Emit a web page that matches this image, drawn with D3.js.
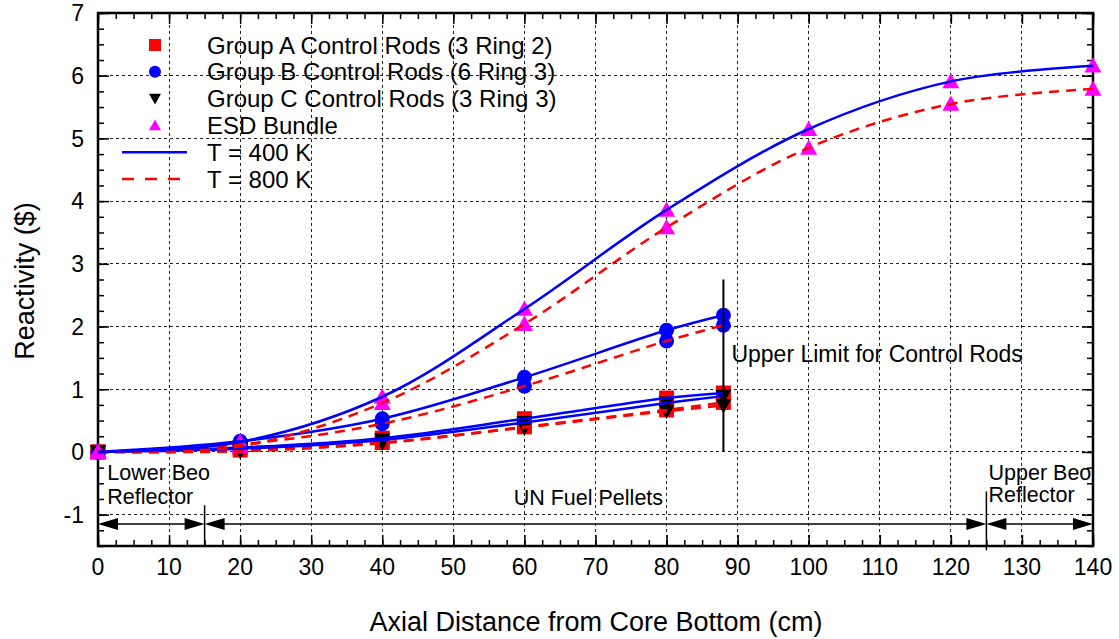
<!DOCTYPE html>
<html>
<head>
<meta charset="utf-8">
<script src="https://cdn.jsdelivr.net/npm/d3@7"></script>
<style>
  body { margin: 0; background: #fff; }
  svg text { font-family: "Liberation Sans", Arial, sans-serif; fill: #000; }
</style>
</head>
<body>
<div id="chart"></div>
<script>
// axis ticks
var xTickValues = [0, 10, 20, 30, 40, 50, 60, 70, 80, 90, 100, 110, 120, 130, 140];
var yTickValues = [-1, 0, 1, 2, 3, 4, 5, 6, 7];

// axial positions of the measurements
var xEsd = [0, 20, 40, 60, 80, 100, 120, 140];
var xRod = [0, 20, 40, 60, 80, 88];

// reactivity ($)
var esd400 = [0, 0.16, 0.88, 2.28, 3.86, 5.15, 5.91, 6.16];
var esd800 = [0, 0.09, 0.78, 2.04, 3.58, 4.85, 5.55, 5.79];
var grpB400 = [0, 0.17, 0.53, 1.19, 1.94, 2.18];
var grpB800 = [0, 0.12, 0.45, 1.05, 1.77, 2.02];
var grpA400 = [0, 0.07, 0.22, 0.53, 0.86, 0.94];
var grpA800 = [0, 0.03, 0.15, 0.40, 0.67, 0.79];
var grpC400 = [0, 0.05, 0.19, 0.47, 0.78, 0.89];
var grpC800 = [0, 0.01, 0.14, 0.39, 0.65, 0.74];

var legendLabels = ["Group A Control Rods (3 Ring 2)", "Group B Control Rods (6 Ring 3)",
                    "Group C Control Rods (3 Ring 3)", "ESD Bundle", "T = 400 K", "T = 800 K"];

var width = 1119, height = 639;
var svg = d3.select("#chart").append("svg").attr("width", width).attr("height", height);

var x = d3.scaleLinear().domain([0, 140]).range([98, 1093]);
var y = d3.scaleLinear().domain([-1.5, 7]).range([546, 13]);

var cols = {A: "#ff0000", B: "#0000ff", C: "#000000", E: "#ff00ff", T400: "#0000ff", T800: "#ff0000"};
var fs = "23px";

//grid
var grid = svg.append("g");
grid.selectAll("line.vg").data(xTickValues.slice(1, -1)).enter().append("line")
  .attr("x1", function(d){return x(d)}).attr("x2", function(d){return x(d)})
  .attr("y1", y(7)).attr("y2", y(-1.5))
  .attr("stroke", "#222").attr("stroke-width", 1).attr("stroke-dasharray", "3,3")
  .style("shape-rendering", "crispEdges");
grid.selectAll("line.hg").data(yTickValues.slice(0, -1)).enter().append("line")
  .attr("y1", function(d){return y(d)}).attr("y2", function(d){return y(d)})
  .attr("x1", x(0)).attr("x2", x(140))
  .attr("stroke", "#222").attr("stroke-width", 1).attr("stroke-dasharray", "3,3")
  .style("shape-rendering", "crispEdges");

//ticks, pointing inward on all four sides
var xMinor = d3.range(0, 140.1, 2.5);
var yMinor = d3.range(-1.5, 7.01, 0.25);
function tickGroup(axis, tr){
  svg.append("g").attr("transform", tr).call(axis)
     .call(function(g){ g.select(".domain").remove(); g.selectAll("text").remove(); g.selectAll("line").attr("stroke-width", 1.5); });
}
tickGroup(d3.axisBottom(x).tickValues(xMinor).tickSize(-6), "translate(0," + y(-1.5) + ")");
tickGroup(d3.axisBottom(x).tickValues(xTickValues).tickSize(-11), "translate(0," + y(-1.5) + ")");
tickGroup(d3.axisTop(x).tickValues(xMinor).tickSize(-6), "translate(0," + y(7) + ")");
tickGroup(d3.axisTop(x).tickValues(xTickValues).tickSize(-11), "translate(0," + y(7) + ")");
tickGroup(d3.axisLeft(y).tickValues(yMinor).tickSize(-6), "translate(" + x(0) + ",0)");
tickGroup(d3.axisLeft(y).tickValues(yTickValues).tickSize(-11), "translate(" + x(0) + ",0)");
tickGroup(d3.axisRight(y).tickValues(yMinor).tickSize(-6), "translate(" + x(140) + ",0)");
tickGroup(d3.axisRight(y).tickValues(yTickValues).tickSize(-11), "translate(" + x(140) + ",0)");

//frame
svg.append("rect").attr("x", x(0)).attr("y", y(7)).attr("width", x(140) - x(0)).attr("height", y(-1.5) - y(7))
   .attr("fill", "none").attr("stroke", "#000").attr("stroke-width", 2.5);

//tick labels
svg.selectAll("text.xl").data(xTickValues).enter().append("text")
   .attr("x", function(d){return x(d)}).attr("y", 575).attr("text-anchor", "middle")
   .style("font-size", fs).text(function(d){return d});
svg.selectAll("text.yl").data(yTickValues).enter().append("text")
   .attr("x", 84).attr("y", function(d){return y(d)}).attr("dy", "0.36em").attr("text-anchor", "end")
   .style("font-size", fs).text(function(d){return d});

//axis titles
svg.append("text").attr("x", 596).attr("y", 631).attr("text-anchor", "middle")
   .style("font-size", "27px").text("Axial Distance from Core Bottom (cm)");
svg.append("text").attr("transform", "translate(34,281) rotate(-90)").attr("text-anchor", "middle")
   .style("font-size", "27px").text("Reactivity ($)");

//marker shapes
function shape(kind, s){
  if(kind == "A") return d3.symbol(d3.symbolSquare, s * s)();
  if(kind == "B") return d3.symbol(d3.symbolCircle, Math.PI * s * s / 4)();
  var h = s * 0.9;
  if(kind == "E") return "M0," + (-h * 0.55) + "L" + (s / 2) + "," + (h * 0.45) + "L" + (-s / 2) + "," + (h * 0.45) + "Z";
  return "M0," + (h * 0.55) + "L" + (s / 2) + "," + (-h * 0.45) + "L" + (-s / 2) + "," + (-h * 0.45) + "Z";
}

var series = [
  {kind: "A", xs: xRod, v400: grpA400, v800: grpA800, size: 15},
  {kind: "B", xs: xRod, v400: grpB400, v800: grpB800, size: 15},
  {kind: "C", xs: xRod, v400: grpC400, v800: grpC800, size: 16},
  {kind: "E", xs: xEsd, v400: esd400, v800: esd800, size: 17}
];

//markers
var markG = svg.append("g");
series.forEach(function(s){
  var pts = [];
  s.xs.forEach(function(xv, i){ pts.push([xv, s.v800[i]]); pts.push([xv, s.v400[i]]); });
  markG.selectAll(null).data(pts).enter().append("path")
    .attr("transform", function(d){return "translate(" + x(d[0]) + "," + y(d[1]) + ")"})
    .attr("d", shape(s.kind, s.size)).attr("fill", cols[s.kind]);
});

//fitted curves
var line = d3.line().x(function(d){return x(d[0])}).y(function(d){return y(d[1])}).curve(d3.curveCatmullRom.alpha(0.5));
var lineG = svg.append("g").attr("fill", "none");
series.forEach(function(s){
  lineG.append("path").attr("d", line(s.xs.map(function(xv, i){return [xv, s.v800[i]]})))
    .attr("stroke", cols.T800).attr("stroke-width", 2.5).attr("stroke-dasharray", "10,7");
  lineG.append("path").attr("d", line(s.xs.map(function(xv, i){return [xv, s.v400[i]]})))
    .attr("stroke", cols.T400).attr("stroke-width", 2.5);
});

//upper limit for control rods
svg.append("line").attr("x1", x(88)).attr("x2", x(88)).attr("y1", y(2.75)).attr("y2", y(0))
   .attr("stroke", "#000").attr("stroke-width", 2);
svg.append("text").attr("x", x(88) + 8).attr("y", y(1.56)).attr("dy", "0.36em")
   .style("font-size", "23px").text("Upper Limit for Control Rods");

//region arrows
var arrowY = -1.15;
var regions = [[0, 15], [15, 125], [125, 140]];
var arrG = svg.append("g");
regions.forEach(function(r){
  var a = x(r[0]), b = x(r[1]), yy = y(arrowY);
  arrG.append("line").attr("x1", a + 10).attr("x2", b - 10).attr("y1", yy).attr("y2", yy)
      .attr("stroke", "#000").attr("stroke-width", 1.5);
  arrG.append("path").attr("d", "M" + a + "," + yy + "l20,-6l0,12z").attr("fill", "#000");
  arrG.append("path").attr("d", "M" + b + "," + yy + "l-20,-6l0,12z").attr("fill", "#000");
});
var seps = [{x: 15, y1: -0.85, y2: -1.5}, {x: 125, y1: -0.63, y2: -1.57}];
arrG.selectAll("line.sep").data(seps).enter().append("line")
    .attr("x1", function(d){return x(d.x)}).attr("x2", function(d){return x(d.x)})
    .attr("y1", function(d){return y(d.y1)}).attr("y2", function(d){return y(d.y2)})
    .attr("stroke", "#000").attr("stroke-width", 1.5);

var notes = [
  {t: "Lower Beo", x: 1.3, y: -0.32, anchor: "start"},
  {t: "Reflector", x: 1.3, y: -0.7, anchor: "start"},
  {t: "UN Fuel Pellets", x: 69, y: -0.73, anchor: "middle"},
  {t: "Upper Beo", x: 125.3, y: -0.32, anchor: "start"},
  {t: "Reflector", x: 125.3, y: -0.67, anchor: "start"}
];
svg.selectAll("text.note").data(notes).enter().append("text")
   .attr("x", function(d){return x(d.x)}).attr("y", function(d){return y(d.y)}).attr("dy", "0.36em")
   .attr("text-anchor", function(d){return d.anchor})
   .style("font-size", "21.5px").text(function(d){return d.t});

//legend
var legKinds = ["A", "B", "C", "E", "T400", "T800"];
var leg = svg.append("g");
legKinds.forEach(function(k, i){
  var ly = 45 + i * 26.8;
  if(k == "T400" || k == "T800"){
    leg.append("line").attr("x1", 122).attr("x2", 187).attr("y1", ly).attr("y2", ly)
       .attr("stroke", cols[k]).attr("stroke-width", 2.5)
       .attr("stroke-dasharray", k == "T800" ? "12,11" : null);
  } else {
    leg.append("path").attr("transform", "translate(155," + ly + ")").attr("d", shape(k, 12)).attr("fill", cols[k]);
  }
  leg.append("text").attr("x", 207).attr("y", ly).attr("dy", "0.36em")
     .style("font-size", "24px").text(legendLabels[i]);
});
</script>
</body>
</html>
